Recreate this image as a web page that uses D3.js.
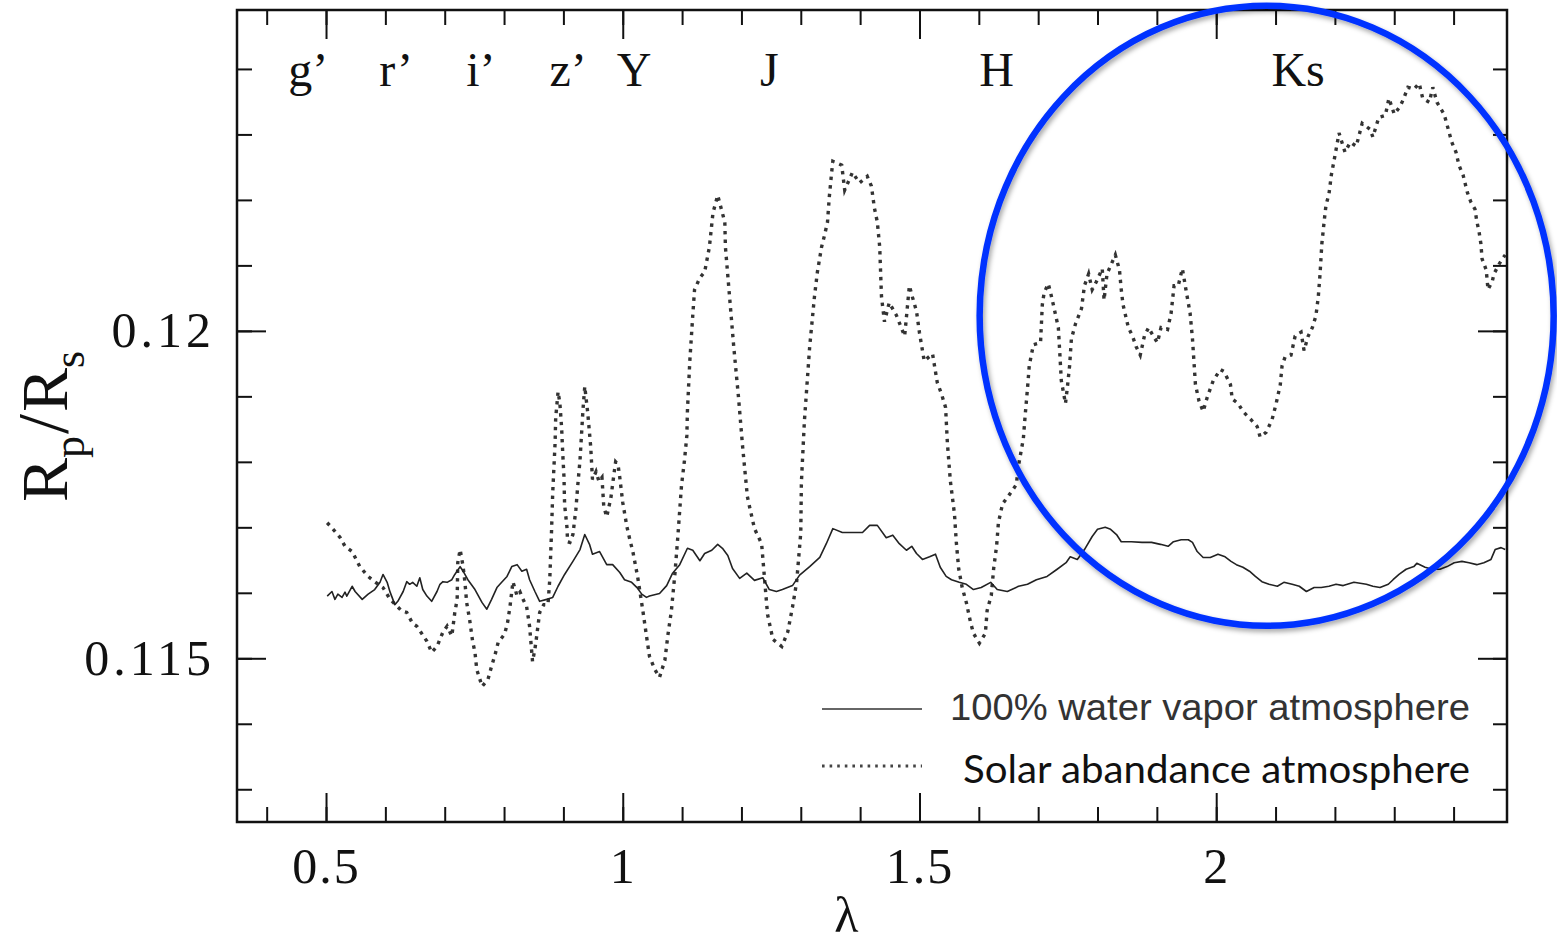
<!DOCTYPE html>
<html>
<head>
<meta charset="utf-8">
<script src="https://cdn.jsdelivr.net/npm/d3@7"></script>
<style>
  body { margin: 0; background: #fff; }
  svg { display: block; }
</style>
</head>
<body>
<div id="chart"></div>
<script>
// Rp/Rs transmission spectra: [lambda (micron), Rp/Rs]
const waterVapor = [
  [0.502,0.11595],[0.510,0.11602],[0.515,0.11590],[0.520,0.11598],[0.527,0.11593],[0.532,0.11601],[0.535,0.11595],
  [0.544,0.11610],[0.549,0.11602],[0.561,0.11590],[0.571,0.11598],[0.582,0.11605],[0.591,0.11616],[0.596,0.11628],
  [0.603,0.11616],[0.608,0.11601],[0.616,0.11582],[0.621,0.11587],[0.630,0.11602],[0.636,0.11617],[0.641,0.11613],
  [0.646,0.11616],[0.653,0.11610],[0.658,0.11623],[0.663,0.11605],[0.670,0.11595],[0.678,0.11587],[0.687,0.11602],
  [0.692,0.11613],[0.697,0.11617],[0.704,0.11616],[0.712,0.11620],[0.717,0.11628],[0.726,0.11640],[0.731,0.11633],
  [0.739,0.11620],[0.751,0.11605],[0.763,0.11585],[0.771,0.11575],[0.779,0.11590],[0.788,0.11608],[0.796,0.11616],
  [0.805,0.11625],[0.813,0.11640],[0.822,0.11643],[0.830,0.11633],[0.838,0.11636],[0.843,0.11620],[0.852,0.11602],
  [0.860,0.11587],[0.872,0.11590],[0.882,0.11593],[0.891,0.11610],[0.902,0.11628],[0.916,0.11648],[0.928,0.11666],
  [0.936,0.11689],[0.944,0.11674],[0.949,0.11659],[0.961,0.11663],[0.973,0.11643],[0.983,0.11643],[0.995,0.11631],
  [1.003,0.11620],[1.015,0.11616],[1.024,0.11608],[1.032,0.11598],[1.040,0.11593],[1.045,0.11595],[1.062,0.11599],
  [1.074,0.11611],[1.084,0.11630],[1.096,0.11643],[1.109,0.11668],[1.118,0.11665],[1.130,0.11649],[1.138,0.11660],
  [1.150,0.11665],[1.160,0.11674],[1.168,0.11668],[1.177,0.11657],[1.185,0.11637],[1.197,0.11622],[1.209,0.11630],
  [1.222,0.11619],[1.236,0.11623],[1.247,0.11605],[1.259,0.11602],[1.269,0.11605],[1.286,0.11611],[1.298,0.11627],
  [1.315,0.11640],[1.332,0.11654],[1.343,0.11675],[1.354,0.11698],[1.370,0.11692],[1.387,0.11692],[1.404,0.11692],
  [1.416,0.11703],[1.429,0.11703],[1.444,0.11684],[1.455,0.11688],[1.466,0.11675],[1.478,0.11665],[1.487,0.11671],
  [1.495,0.11660],[1.505,0.11651],[1.517,0.11655],[1.527,0.11659],[1.535,0.11639],[1.545,0.11625],[1.554,0.11620],
  [1.567,0.11616],[1.579,0.11613],[1.591,0.11605],[1.604,0.11608],[1.620,0.11616],[1.631,0.11605],[1.648,0.11602],
  [1.667,0.11610],[1.682,0.11613],[1.697,0.11620],[1.715,0.11625],[1.732,0.11636],[1.747,0.11646],[1.754,0.11655],
  [1.766,0.11651],[1.778,0.11666],[1.791,0.11686],[1.800,0.11697],[1.813,0.11700],[1.822,0.11697],[1.832,0.11689],
  [1.840,0.11678],[1.857,0.11678],[1.875,0.11677],[1.891,0.11677],[1.906,0.11674],[1.919,0.11671],[1.928,0.11678],
  [1.941,0.11681],[1.953,0.11681],[1.960,0.11677],[1.968,0.11663],[1.978,0.11654],[1.990,0.11654],[2.003,0.11659],
  [2.015,0.11655],[2.025,0.11648],[2.034,0.11643],[2.045,0.11639],[2.056,0.11633],[2.066,0.11625],[2.077,0.11617],
  [2.089,0.11613],[2.103,0.11610],[2.114,0.11616],[2.128,0.11613],[2.140,0.11610],[2.152,0.11602],[2.165,0.11608],
  [2.177,0.11608],[2.190,0.11610],[2.202,0.11613],[2.214,0.11611],[2.232,0.11616],[2.253,0.11613],[2.264,0.11610],
  [2.276,0.11608],[2.290,0.11613],[2.298,0.11620],[2.308,0.11628],[2.320,0.11636],[2.333,0.11640],[2.338,0.11645],
  [2.352,0.11639],[2.364,0.11636],[2.377,0.11636],[2.389,0.11640],[2.401,0.11646],[2.414,0.11648],[2.426,0.11646],
  [2.439,0.11643],[2.451,0.11646],[2.463,0.11651],[2.470,0.11666],[2.480,0.11669],[2.487,0.11666]
];

const solarAbundance = [
  [0.502,0.11707],[0.515,0.11694],[0.524,0.11684],[0.532,0.11671],[0.544,0.11663],[0.557,0.11640],[0.571,0.11625],
  [0.582,0.11617],[0.596,0.11608],[0.608,0.11590],[0.628,0.11572],[0.636,0.11570],[0.646,0.11553],[0.653,0.11549],
  [0.670,0.11526],[0.678,0.11509],[0.687,0.11518],[0.697,0.11540],[0.704,0.11549],[0.712,0.11534],[0.717,0.11570],
  [0.721,0.11590],[0.722,0.11646],[0.726,0.11666],[0.731,0.11640],[0.734,0.11617],[0.737,0.11585],[0.742,0.11559],
  [0.747,0.11526],[0.751,0.11509],[0.754,0.11483],[0.763,0.11457],[0.773,0.11468],[0.779,0.11488],[0.785,0.11506],
  [0.790,0.11524],[0.801,0.11537],[0.806,0.11555],[0.810,0.11579],[0.815,0.11617],[0.822,0.11595],[0.827,0.11601],
  [0.832,0.11590],[0.838,0.11579],[0.843,0.11549],[0.848,0.11495],[0.852,0.11514],[0.855,0.11534],[0.860,0.11570],
  [0.867,0.11582],[0.874,0.11582],[0.877,0.11620],[0.880,0.11694],[0.882,0.11753],[0.886,0.11829],[0.887,0.11867],
  [0.891,0.11907],[0.894,0.11890],[0.897,0.11852],[0.899,0.11811],[0.901,0.11776],[0.902,0.11735],[0.906,0.11700],
  [0.907,0.11678],[0.911,0.11677],[0.916,0.11689],[0.921,0.11727],[0.924,0.11762],[0.928,0.11803],[0.931,0.11849],
  [0.933,0.11880],[0.936,0.11915],[0.941,0.11875],[0.946,0.11823],[0.949,0.11773],[0.955,0.11785],[0.960,0.11770],
  [0.965,0.11776],[0.968,0.11732],[0.973,0.11716],[0.980,0.11745],[0.985,0.11780],[0.988,0.11800],[0.992,0.11796],
  [0.995,0.11776],[1.000,0.11738],[1.007,0.11701],[1.012,0.11681],[1.017,0.11663],[1.025,0.11625],[1.034,0.11572],
  [1.040,0.11534],[1.045,0.11503],[1.054,0.11483],[1.062,0.11471],[1.071,0.11497],[1.076,0.11535],[1.082,0.11573],
  [1.088,0.11630],[1.093,0.11688],[1.096,0.11726],[1.099,0.11764],[1.104,0.11802],[1.108,0.11840],[1.109,0.11878],
  [1.113,0.11954],[1.118,0.12024],[1.121,0.12063],[1.130,0.12081],[1.138,0.12090],[1.146,0.12128],[1.152,0.12180],
  [1.160,0.12207],[1.167,0.12183],[1.172,0.12166],[1.173,0.12128],[1.180,0.12052],[1.187,0.11976],[1.195,0.11899],
  [1.202,0.11823],[1.210,0.11747],[1.214,0.11730],[1.222,0.11698],[1.234,0.11675],[1.241,0.11599],[1.244,0.11567],
  [1.253,0.11529],[1.268,0.11518],[1.278,0.11540],[1.286,0.11578],[1.293,0.11616],[1.300,0.11692],[1.301,0.11768],
  [1.306,0.11861],[1.315,0.11976],[1.323,0.12052],[1.328,0.12090],[1.335,0.12128],[1.340,0.12146],[1.345,0.12166],
  [1.348,0.12204],[1.352,0.12242],[1.354,0.12259],[1.369,0.12253],[1.374,0.12215],[1.387,0.12242],[1.399,0.12226],
  [1.412,0.12236],[1.419,0.12221],[1.424,0.12188],[1.429,0.12166],[1.433,0.12128],[1.436,0.12052],[1.441,0.12014],
  [1.449,0.12043],[1.461,0.12024],[1.475,0.11992],[1.483,0.12069],[1.488,0.12052],[1.495,0.12030],[1.500,0.11997],
  [1.508,0.11954],[1.522,0.11965],[1.530,0.11921],[1.537,0.11904],[1.544,0.11883],[1.547,0.11829],[1.552,0.11771],
  [1.559,0.11720],[1.562,0.11678],[1.566,0.11637],[1.572,0.11608],[1.579,0.11585],[1.586,0.11555],[1.591,0.11538],
  [1.601,0.11523],[1.611,0.11538],[1.614,0.11573],[1.621,0.11596],[1.625,0.11637],[1.630,0.11672],[1.633,0.11707],
  [1.640,0.11736],[1.650,0.11748],[1.663,0.11765],[1.668,0.11800],[1.675,0.11835],[1.678,0.11870],[1.682,0.11912],
  [1.685,0.11947],[1.692,0.11979],[1.704,0.11982],[1.707,0.12040],[1.710,0.12058],[1.717,0.12072],[1.721,0.12058],
  [1.727,0.12034],[1.734,0.12005],[1.737,0.11957],[1.739,0.11924],[1.746,0.11889],[1.749,0.11912],[1.753,0.11947],
  [1.756,0.11988],[1.763,0.12011],[1.773,0.12034],[1.778,0.12069],[1.785,0.12087],[1.791,0.12063],[1.798,0.12075],
  [1.808,0.12095],[1.811,0.12047],[1.816,0.12087],[1.830,0.12116],[1.837,0.12093],[1.840,0.12063],[1.843,0.12040],
  [1.852,0.12005],[1.859,0.11992],[1.865,0.11976],[1.872,0.11963],[1.879,0.11992],[1.886,0.12005],[1.894,0.11992],
  [1.901,0.11982],[1.907,0.12005],[1.918,0.12002],[1.924,0.12027],[1.929,0.12069],[1.936,0.12069],[1.943,0.12095],
  [1.949,0.12063],[1.956,0.12027],[1.960,0.11988],[1.965,0.11918],[1.971,0.11893],[1.978,0.11877],[1.985,0.11899],
  [1.995,0.11924],[2.007,0.11941],[2.013,0.11938],[2.024,0.11918],[2.027,0.11896],[2.037,0.11889],[2.045,0.11877],
  [2.059,0.11864],[2.069,0.11854],[2.074,0.11838],[2.084,0.11845],[2.094,0.11864],[2.101,0.11889],[2.108,0.11918],
  [2.111,0.11947],[2.116,0.11960],[2.126,0.11963],[2.133,0.11992],[2.143,0.11998],[2.148,0.11970],[2.155,0.11992],
  [2.162,0.12005],[2.168,0.12023],[2.172,0.12052],[2.175,0.12087],[2.178,0.12133],[2.182,0.12168],[2.185,0.12192],
  [2.190,0.12209],[2.194,0.12238],[2.200,0.12267],[2.207,0.12302],[2.217,0.12273],[2.226,0.12288],[2.236,0.12282],
  [2.246,0.12317],[2.259,0.12308],[2.264,0.12296],[2.274,0.12326],[2.285,0.12329],[2.291,0.12355],[2.300,0.12331],
  [2.310,0.12343],[2.316,0.12355],[2.323,0.12372],[2.333,0.12369],[2.342,0.12378],[2.348,0.12355],[2.359,0.12349],
  [2.365,0.12372],[2.372,0.12349],[2.384,0.12331],[2.391,0.12308],[2.397,0.12288],[2.404,0.12273],[2.409,0.12253],
  [2.416,0.12238],[2.423,0.12212],[2.429,0.12197],[2.436,0.12186],[2.439,0.12168],[2.443,0.12151],[2.446,0.12133],
  [2.448,0.12110],[2.455,0.12093],[2.458,0.12063],[2.465,0.12075],[2.468,0.12087],[2.478,0.12104],[2.487,0.12116]
];

// photometric bands written across the top
const bandNames = ["g\u2019", "r\u2019", "i\u2019", "z\u2019", "Y", "J", "H", "Ks"];
const bandCenters = [0.470, 0.618, 0.761, 0.908, 1.019, 1.247, 1.630, 2.138];

// ticks
const xMinorTicks = d3.range(4, 25).map(d => d / 10);
const xMajorTicks = [0.5, 1, 1.5, 2];
const yMinorTicks = d3.range(113, 125).map(d => d / 1000);
const yMajorTicks = [0.115, 0.12];

const legendNames = ["100% water vapor atmosphere", "Solar abandance atmosphere"];

const margin = { top: 10, right: 50, bottom: 123, left: 237 },
  width = 1557 - margin.left - margin.right,
  height = 945 - margin.top - margin.bottom;

const root = d3.select("#chart")
  .append("svg")
  .attr("width", 1557)
  .attr("height", 945);

const defs = root.append("defs");
const shadow = defs.append("filter").attr("id", "shadow")
  .attr("x", "-10%").attr("y", "-10%").attr("width", "120%").attr("height", "120%");
shadow.append("feDropShadow")
  .attr("dx", 2).attr("dy", 3).attr("stdDeviation", 2.5)
  .attr("flood-color", "#000").attr("flood-opacity", 0.35);

const svg = root.append("g")
  .attr("transform", `translate(${margin.left}, ${margin.top})`);

const x = d3.scaleLinear().domain([0.35, 2.49]).range([0, width]);
const y = d3.scaleLinear().domain([0.1125, 0.1249]).range([height, 0]);

const serif = "'Liberation Serif', 'Times New Roman', serif";

// ticks on all four sides, pointing inward
function styleTicks(g) {
  g.select(".domain").remove();
  g.selectAll(".tick line").attr("stroke", "#111").attr("stroke-width", 2);
}

svg.append("g").attr("transform", `translate(0, ${height})`)
  .call(d3.axisBottom(x).tickValues(xMinorTicks).tickSize(-15).tickFormat(""))
  .call(styleTicks);
const xLab = svg.append("g").attr("transform", `translate(0, ${height})`)
  .call(d3.axisBottom(x).tickValues(xMajorTicks).tickSize(-29).tickPadding(25).tickFormat(d3.format("")))
  .call(styleTicks);
xLab.selectAll("text")
  .attr("font-family", serif).attr("font-size", 50).attr("fill", "#111")
  .attr("letter-spacing", 2);

svg.append("g")
  .call(d3.axisTop(x).tickValues(xMinorTicks).tickSize(-15).tickFormat(""))
  .call(styleTicks);
svg.append("g")
  .call(d3.axisTop(x).tickValues(xMajorTicks).tickSize(-29).tickFormat(""))
  .call(styleTicks);

svg.append("g")
  .call(d3.axisLeft(y).tickValues(yMinorTicks).tickSize(-15).tickFormat(""))
  .call(styleTicks);
const yLab = svg.append("g")
  .call(d3.axisLeft(y).tickValues(yMajorTicks).tickSize(-29).tickPadding(22).tickFormat(d3.format("")))
  .call(styleTicks);
yLab.selectAll("text")
  .attr("font-family", serif).attr("font-size", 50).attr("fill", "#111")
  .attr("letter-spacing", 4);

svg.append("g").attr("transform", `translate(${width}, 0)`)
  .call(d3.axisRight(y).tickValues(yMinorTicks).tickSize(-14).tickFormat(""))
  .call(styleTicks);
svg.append("g").attr("transform", `translate(${width}, 0)`)
  .call(d3.axisRight(y).tickValues(yMajorTicks).tickSize(-29).tickFormat(""))
  .call(styleTicks);

// frame
svg.append("rect")
  .attr("width", width).attr("height", height)
  .attr("fill", "none").attr("stroke", "#111").attr("stroke-width", 2.5);

// band names
svg.append("g")
  .selectAll("text")
  .data(bandNames)
  .join("text")
  .attr("x", (d, i) => x(bandCenters[i]))
  .attr("y", 76)
  .attr("text-anchor", "middle")
  .attr("font-family", serif)
  .attr("font-size", 48)
  .attr("fill", "#111")
  .text(d => d);

const line = d3.line()
  .x(d => x(d[0]))
  .y(d => y(d[1]));

svg.append("path")
  .datum(solarAbundance)
  .attr("fill", "none")
  .attr("stroke", "#333")
  .attr("stroke-width", 3.4)
  .attr("stroke-dasharray", "3.4 5.2")
  .attr("d", line);

svg.append("path")
  .datum(waterVapor)
  .attr("fill", "none")
  .attr("stroke", "#222")
  .attr("stroke-width", 1.6)
  .attr("stroke-linejoin", "round")
  .attr("d", line);

// legend
const legend = svg.append("g");
legend.append("line")
  .attr("x1", 585).attr("x2", 685).attr("y1", 699).attr("y2", 699)
  .attr("stroke", "#333").attr("stroke-width", 1.6);
legend.append("line")
  .attr("x1", 585).attr("x2", 685).attr("y1", 756).attr("y2", 756)
  .attr("stroke", "#444").attr("stroke-width", 2.8).attr("stroke-dasharray", "2.6 5");
legend.append("text")
  .attr("x", 713).attr("y", 710)
  .attr("font-family", "'Liberation Sans', Arial, sans-serif")
  .attr("font-size", 36).attr("fill", "#333")
  .attr("textLength", 520).attr("lengthAdjust", "spacingAndGlyphs")
  .text(legendNames[0]);
legend.append("text")
  .attr("x", 726).attr("y", 773)
  .attr("font-family", "Lato, 'Open Sans', sans-serif")
  .attr("font-size", 38).attr("fill", "#111")
  .attr("textLength", 507).attr("lengthAdjust", "spacingAndGlyphs")
  .text(legendNames[1]);

// axis titles
svg.append("text")
  .attr("x", x(1.377)).attr("y", 922)
  .attr("text-anchor", "middle")
  .attr("font-family", serif).attr("font-size", 50).attr("fill", "#111")
  .text("\u03bb");

const yTitle = svg.append("text")
  .attr("transform", `translate(${67 - margin.left}, ${502 - margin.top}) rotate(-90)`)
  .attr("font-family", serif).attr("fill", "#111");
yTitle.append("tspan").attr("font-size", 66).text("R");
yTitle.append("tspan").attr("font-size", 44).attr("dy", 17).text("p");
yTitle.append("tspan").attr("font-size", 72).attr("dy", -17).attr("dx", 2).text("/");
yTitle.append("tspan").attr("font-size", 66).attr("dx", 2).text("R");
yTitle.append("tspan").attr("font-size", 44).attr("dy", 17).text("s");

// highlight of the Ks-band region
svg.append("ellipse")
  .attr("cx", x(2.085)).attr("cy", y(0.12023))
  .attr("rx", 287).attr("ry", 310)
  .attr("fill", "none")
  .attr("stroke", "#0433ff")
  .attr("stroke-width", 6.5)
  .attr("filter", "url(#shadow)");
</script>
</body>
</html>
